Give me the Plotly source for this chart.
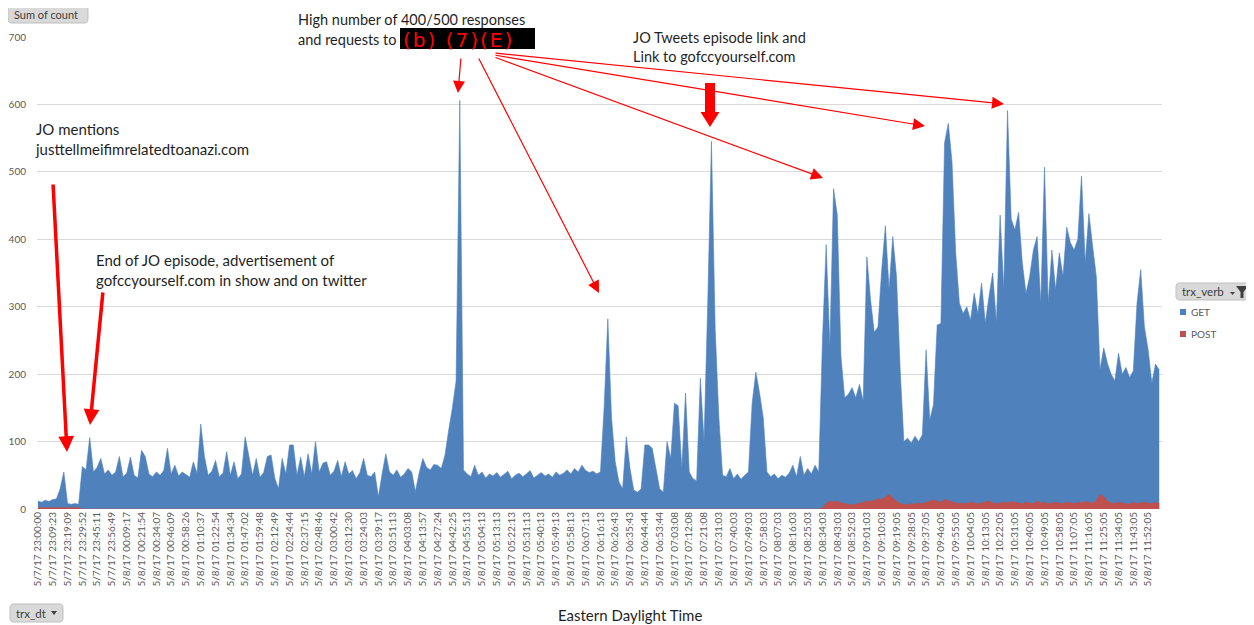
import plotly.graph_objects as go

# ---------------- data ----------------
GET = [
    12, 10, 13, 11, 14, 15, 30, 55, 8, 7, 8, 7,
    63, 58, 106, 55, 62, 75, 52, 58, 50, 55,
    78, 48, 53, 77, 50, 46, 87, 78, 52, 48,
    55, 50, 57, 90, 52, 65, 49, 55, 51, 47,
    70, 53, 126, 78, 50, 56, 72, 48, 53, 85,
    50, 70, 45, 52, 107, 80, 50, 75, 47, 54,
    78, 80, 46, 30, 75, 52, 95, 95, 50, 77,
    48, 82, 52, 100, 55, 68, 70, 50, 56, 72,
    48, 70, 52, 57, 45, 54, 75, 50, 48, 55,
    18, 52, 82, 55, 50, 58, 47, 52, 60, 55,
    26, 53, 75, 62, 58, 66, 65, 60,
    80, 117, 150, 190, 606, 58,
    52, 48, 65, 50, 55, 46, 52, 49, 54, 47, 51, 56, 45, 50, 53, 48, 52,
    57, 46, 50, 54, 49, 52, 47, 55, 50, 53, 58, 52, 60, 55, 65, 57, 54,
    56, 52, 55, 150, 282, 135, 70, 40, 30, 107, 60, 28, 25, 30, 95, 95,
    90, 60, 30, 25, 100, 75, 157, 153, 60, 172, 55, 45, 42, 194, 100, 305,
    545, 268, 136, 50,
    48, 60, 45, 52, 44, 50, 55,
    157, 203, 172, 135, 55,
    48, 52, 45, 50, 47, 53, 65, 48, 78, 50, 60, 52, 65, 55,
    250, 392, 240, 475, 436, 226, 165, 170, 180, 165, 185, 160, 374, 310,
    262, 270, 354, 420, 325, 404, 345, 206, 100, 105, 98, 108, 100, 110,
    236, 132, 155, 273, 275, 543, 572, 515, 380, 305,
    290, 300, 280, 320, 290, 335, 276, 315, 350, 276, 436, 325, 591, 430,
    414, 440, 365, 320, 345, 384, 404, 305, 507, 305, 384, 325, 380, 345,
    418, 395, 384, 400, 494, 365, 438, 390, 345, 206, 239, 216, 200, 190,
    231, 200, 210, 195, 205, 305, 355, 270, 236, 187, 215, 206,
]

POST = [
    2, 2, 2, 2, 2, 2, 2, 2, 2, 2, 2, 2,
    0, 0, 0, 0, 0, 0, 0, 0, 0, 0, 0, 0, 0, 0, 0, 0, 0, 0, 0, 0,
    0, 0, 0, 0, 0, 0, 0, 0, 0, 0, 0, 0, 0, 0, 0, 0, 0, 0, 0, 0,
    0, 0, 0, 0, 0, 0, 0, 0, 0, 0, 0, 0, 0, 0, 0, 0, 0, 0, 0, 0,
    0, 0, 0, 0, 0, 0, 0, 0, 0, 0, 0, 0, 0, 0, 0, 0, 0, 0, 0, 0,
    0, 0, 0, 0, 0, 0, 0, 0, 0, 0, 0, 0, 0, 0, 0, 0, 0, 0, 0, 0,
    0, 0, 0, 0, 0, 0, 0, 0, 0, 0, 0, 0, 0, 0, 0, 0, 0, 0, 0, 0,
    0, 0, 0, 0, 0, 0, 0, 0, 0, 0, 0, 0, 0, 0, 0, 0, 0, 0, 0, 0,
    0, 0, 0, 0, 0, 0, 0, 0, 0, 0, 0, 0, 0, 0, 0, 0, 0, 0, 0, 0,
    0, 0, 0, 0, 0, 0, 0, 0, 0, 0, 0, 0, 0, 0, 0, 0, 0, 0, 0, 0,
    0, 0, 0, 0, 0, 0, 0, 0, 0, 0, 0, 0, 0, 0, 0, 0, 0, 0, 0, 0,
    2, 8, 12, 10, 12, 9, 8, 7, 6, 7,
    8, 10, 12, 11, 13, 15, 14, 18, 22, 16,
    12, 8, 7, 6, 8, 7, 9, 8, 10, 12,
    13, 12, 10, 14, 12, 10, 9, 8, 9, 8,
    10, 9, 8, 9, 10, 12, 9, 8, 9, 10,
    9, 11, 10, 9, 8, 10, 9, 8, 12, 9,
    10, 8, 9, 10, 9, 8, 10, 9, 8, 10,
    9, 11, 10, 9, 12, 22, 18, 12, 9, 8,
    10, 9, 8, 7, 10, 8, 9, 10, 9, 8,
    10, 8,
]

TICK_LABELS = [
    "5/7/17 23:00:00", "5/7/17 23:09:23", "5/7/17 23:19:09", "5/7/17 23:29:52",
    "5/7/17 23:45:11", "5/7/17 23:56:49", "5/8/17 00:09:17", "5/8/17 00:21:54",
    "5/8/17 00:34:07", "5/8/17 00:46:09", "5/8/17 00:58:26", "5/8/17 01:10:37",
    "5/8/17 01:22:54", "5/8/17 01:34:34", "5/8/17 01:47:02", "5/8/17 01:59:48",
    "5/8/17 02:12:49", "5/8/17 02:24:44", "5/8/17 02:37:15", "5/8/17 02:48:46",
    "5/8/17 03:00:42", "5/8/17 03:12:30", "5/8/17 03:24:03", "5/8/17 03:39:17",
    "5/8/17 03:51:13", "5/8/17 04:03:08", "5/8/17 04:13:57", "5/8/17 04:27:24",
    "5/8/17 04:42:25", "5/8/17 04:55:13", "5/8/17 05:04:13", "5/8/17 05:13:13",
    "5/8/17 05:22:13", "5/8/17 05:31:13", "5/8/17 05:40:13", "5/8/17 05:49:13",
    "5/8/17 05:58:13", "5/8/17 06:07:13", "5/8/17 06:16:13", "5/8/17 06:26:43",
    "5/8/17 06:35:43", "5/8/17 06:44:44", "5/8/17 06:53:44", "5/8/17 07:03:08",
    "5/8/17 07:12:08", "5/8/17 07:21:08", "5/8/17 07:31:03", "5/8/17 07:40:03",
    "5/8/17 07:49:03", "5/8/17 07:58:03", "5/8/17 08:07:03", "5/8/17 08:16:03",
    "5/8/17 08:25:03", "5/8/17 08:34:03", "5/8/17 08:43:03", "5/8/17 08:52:03",
    "5/8/17 09:01:03", "5/8/17 09:10:03", "5/8/17 09:19:05", "5/8/17 09:28:05",
    "5/8/17 09:37:05", "5/8/17 09:46:05", "5/8/17 09:55:05", "5/8/17 10:04:05",
    "5/8/17 10:13:05", "5/8/17 10:22:05", "5/8/17 10:31:05", "5/8/17 10:40:05",
    "5/8/17 10:49:05", "5/8/17 10:58:05", "5/8/17 11:07:05", "5/8/17 11:16:05",
    "5/8/17 11:25:05", "5/8/17 11:34:05", "5/8/17 11:43:05", "5/8/17 11:52:05",
]
POINTS_PER_LABEL = 4

# ---------------- layout helpers ----------------
# the page body adds an 8px offset; coordinates below are reference-picture pixels
OFF = 8
FIG_W, FIG_H = 1254 - OFF, 625 - OFF
L, R, T, B = 37 - OFF, 1162 - OFF, 37 - OFF, 509 - OFF
PW, PH = R - L, B - T


def X(px):
    return (px - OFF - L) / PW


def Y(py):
    return (B - (py - OFF)) / PH


def rrect(x0, y0, x1, y1, r):
    pts = [
        ("M", [(x0 + r, y0)]), ("L", [(x1 - r, y0)]), ("Q", [(x1, y0), (x1, y0 + r)]),
        ("L", [(x1, y1 - r)]), ("Q", [(x1, y1), (x1 - r, y1)]), ("L", [(x0 + r, y1)]),
        ("Q", [(x0, y1), (x0, y1 - r)]), ("L", [(x0, y0 + r)]), ("Q", [(x0, y0), (x0 + r, y0)]),
    ]
    s = ""
    for cmd, ps in pts:
        s += cmd + " " + " ".join(f"{X(a):.5f},{Y(b):.5f}" for a, b in ps) + " "
    return s + "Z"


def poly(points):
    return "M " + " L ".join(f"{X(a):.5f},{Y(b):.5f}" for a, b in points) + " Z"


FONT = "Lato, 'Open Sans', sans-serif"
GRAY = "#595959"

xs = list(range(len(GET)))

fig = go.Figure()
fig.add_trace(go.Scatter(x=xs, y=GET, name="GET", mode="lines", fill="tozeroy",
                         line=dict(color="#4f81bd", width=0.6), fillcolor="#4f81bd",
                         showlegend=False))
fig.add_trace(go.Scatter(x=xs, y=POST, name="POST", mode="lines", fill="tozeroy",
                         line=dict(color="#c0504d", width=0.6), fillcolor="#c0504d",
                         showlegend=False))

tickvals = [k * POINTS_PER_LABEL for k in range(len(TICK_LABELS))]

fig.update_layout(
    width=FIG_W, height=FIG_H,
    margin=dict(l=L, r=FIG_W - R, t=T, b=FIG_H - B),
    paper_bgcolor="white", plot_bgcolor="white",
    font=dict(family=FONT, color=GRAY),
    xaxis=dict(range=[-0.25, len(GET) - 0.25], tickmode="array", tickvals=tickvals,
               ticktext=TICK_LABELS, tickangle=-90, tickfont=dict(size=10, color=GRAY),
               showgrid=False, zeroline=False, showline=False, ticks="", automargin=False),
    yaxis=dict(range=[0, 700], tickvals=[0, 100, 200, 300, 400, 500, 600, 700],
               gridcolor="#d9d9d9", gridwidth=1, zeroline=False, showline=False,
               tickfont=dict(size=10, color=GRAY), ticks="", automargin=False,
               ticklabelstandoff=10),
)

shapes = []
ann = []

# redaction bars
shapes.append(dict(type="rect", xref="paper", yref="paper", x0=X(347), x1=X(634), y0=Y(8), y1=Y(0),
                   fillcolor="black", line=dict(width=0), layer="above"))
shapes.append(dict(type="rect", xref="paper", yref="paper", x0=X(400), x1=X(535), y0=Y(49), y1=Y(28),
                   fillcolor="black", line=dict(width=0), layer="above"))

# buttons
for (x0, y0, x1, y1) in [(8, 6, 88, 23), (10, 604, 63, 622), (1176, 283, 1251, 300)]:
    shapes.append(dict(type="path", xref="paper", yref="paper", path=rrect(x0, y0, x1, y1, 4),
                       fillcolor="#d9d9d9", line=dict(color="#bfbfbf", width=1), layer="above"))
# funnel icon + dropdown triangles
shapes.append(dict(type="path", xref="paper", yref="paper",
                   path=poly([(1236, 286), (1248, 286), (1243.5, 292), (1243.5, 298), (1240.5, 298), (1240.5, 292)]),
                   fillcolor="#404040", line=dict(width=0), layer="above"))
shapes.append(dict(type="path", xref="paper", yref="paper",
                   path=poly([(1230, 292), (1235, 292), (1232.5, 295)]),
                   fillcolor="#404040", line=dict(width=0), layer="above"))
shapes.append(dict(type="path", xref="paper", yref="paper",
                   path=poly([(51, 611), (57, 611), (54, 615)]),
                   fillcolor="#404040", line=dict(width=0), layer="above"))
# legend swatches
shapes.append(dict(type="rect", xref="paper", yref="paper", x0=X(1180), x1=X(1186), y0=Y(315), y1=Y(309),
                   fillcolor="#4f81bd", line=dict(width=0), layer="above"))
shapes.append(dict(type="rect", xref="paper", yref="paper", x0=X(1180), x1=X(1186), y0=Y(337), y1=Y(331),
                   fillcolor="#c0504d", line=dict(width=0), layer="above"))
# thick vertical arrow
shapes.append(dict(type="path", xref="paper", yref="paper",
                   path=poly([(705, 83), (715, 83), (715, 112), (719.5, 112), (710, 127), (700.5, 112), (705, 112)]),
                   fillcolor="#ff0000", line=dict(width=0), layer="above"))

fig.update_layout(shapes=shapes)


def text(px, py, s, size=15, color="#1f1f1f", xanchor="left", yanchor="top", family=FONT):
    ann.append(dict(xref="paper", yref="paper", x=X(px), y=Y(py), text=s, showarrow=False,
                    xanchor=xanchor, yanchor=yanchor, align="left",
                    font=dict(size=size, color=color, family=family)))


def arrow(tx, ty, hx, hy, width, size, color="#ff0000"):
    ann.append(dict(xref="paper", yref="paper", x=X(hx), y=Y(hy), ax=tx - hx, ay=ty - hy,
                    text="", showarrow=True, arrowhead=2, arrowwidth=width, arrowsize=size,
                    arrowcolor=color, standoff=0, startstandoff=0))


text(33, 118, "JO mentions<br>justtellmeifimrelatedtoanazi.com")
text(94, 249, "End of JO episode, advertisement of<br>gofccyourself.com in show and on twitter")
text(296, 19.5, "High number of 400/500 responses", size=14.5, yanchor="middle")
text(296, 40, "and requests to", size=14.5, yanchor="middle")
text(631, 27, "JO Tweets episode link and<br>Link to gofccyourself.com", size=14.5)
text(401, 40, '<span style="letter-spacing:2px">(b) (7)(E)</span>', size=20, color="#ff0000",
     yanchor="middle", family="DejaVu Sans")
text(630, 615, "Eastern Daylight Time", size=15, xanchor="center", yanchor="middle")

# buttons' text
text(12, 15, "Sum of count", size=11, color="#404040", yanchor="middle")
text(14, 613, "trx_dt", size=11.5, color="#404040", yanchor="middle")
text(1180, 291.5, "trx_verb", size=11.5, color="#404040", yanchor="middle")
text(1189, 312, "GET", size=10, color=GRAY, yanchor="middle")
text(1189, 334, "POST", size=10, color=GRAY, yanchor="middle")

# arrows
arrow(53, 183, 67, 452, 3.5, 0.9)
arrow(103, 291, 90, 425, 3.5, 0.9)
arrow(461, 57, 458, 93, 1.2, 2.0)
arrow(478, 57, 599, 293, 1.2, 2.0)
arrow(494, 57, 823, 178, 1.2, 2.0)
arrow(494, 55, 925, 126, 1.2, 2.0)
arrow(494, 53, 1004, 104, 1.2, 2.0)

fig.update_layout(annotations=ann)

fig.write_html("out.html")
